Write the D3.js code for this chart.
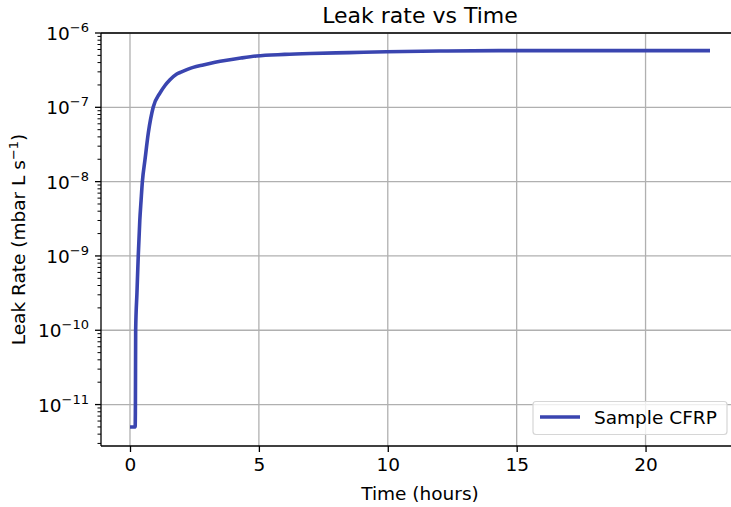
<!DOCTYPE html>
<meta charset="utf-8">
<style>
body { margin: 0; background: #fff; }
text { font-family: "DejaVu Sans", sans-serif; fill: #000; }
</style>
<svg width="731" height="507"></svg>
<script src="https://d3js.org/d3.v7.min.js"></script>
<script>

// time (hours) and leak rate (mbar L/s)
var hours = [0, 0.1, 0.2, 0.21, 0.22, 0.27, 0.32, 0.38, 0.43, 0.48, 0.58, 0.71, 0.9, 1.16, 1.35, 1.55, 1.8, 2.0, 2.45, 2.84, 3.3, 3.75, 4.3, 4.9, 6, 7, 8.5, 9.95, 12, 14.3, 16, 18, 20, 22.5];
var rates = [5e-12, 5e-12, 5e-12, 1e-11, 1e-10, 3.2e-10, 1e-9, 3e-9, 5.6e-9, 1e-8, 1.95e-8, 4.5e-8, 1e-7, 1.55e-7, 1.95e-7, 2.35e-7, 2.79e-7, 3.0e-7, 3.45e-7, 3.72e-7, 4.03e-7, 4.3e-7, 4.6e-7, 4.9e-7, 5.15e-7, 5.3e-7, 5.45e-7, 5.6e-7, 5.72e-7, 5.8e-7, 5.8e-7, 5.8e-7, 5.8e-7, 5.8e-7];
var xTicks = [0, 5, 10, 15, 20];
var yTicks = [-11, -10, -9, -8, -7, -6];

var svg = d3.select("svg");
var margin = {left: 101, top: 33, right: 739, bottom: 446};

var x = d3.scaleLinear().domain([-1.125, 23.625]).range([margin.left, margin.right]);
var y = d3.scaleLog().domain([2.77e-12, 1e-6]).range([margin.bottom, margin.top]);

var data = hours.map(function(h, i) { return {t: h, v: rates[i]}; });

// grid
svg.append("g").selectAll("line")
    .data(xTicks)
  .enter().append("line")
    .attr("x1", function(d) { return x(d); }).attr("x2", function(d) { return x(d); })
    .attr("y1", margin.top).attr("y2", margin.bottom)
    .attr("stroke", "#b0b0b0").attr("stroke-width", 1.3);

svg.append("g").selectAll("line")
    .data(yTicks)
  .enter().append("line")
    .attr("y1", function(d) { return y(Math.pow(10, d)); }).attr("y2", function(d) { return y(Math.pow(10, d)); })
    .attr("x1", margin.left).attr("x2", margin.right)
    .attr("stroke", "#b0b0b0").attr("stroke-width", 1.3);

// line
var line = d3.line()
    .x(function(d) { return x(d.t); })
    .y(function(d) { return y(d.v); })
    .curve(d3.curveMonotoneX);

svg.append("path")
    .datum(data)
    .attr("fill", "none")
    .attr("stroke", "#3a45b0")
    .attr("stroke-width", 3.6)
    .attr("d", line);

// spines
svg.append("line").attr("x1", margin.left).attr("x2", margin.right)
    .attr("y1", margin.top).attr("y2", margin.top).attr("stroke", "#000").attr("stroke-width", 1.3);
svg.append("line").attr("x1", margin.left).attr("x2", margin.right)
    .attr("y1", margin.bottom).attr("y2", margin.bottom).attr("stroke", "#000").attr("stroke-width", 1.3);
svg.append("line").attr("x1", margin.left).attr("x2", margin.left)
    .attr("y1", margin.top).attr("y2", margin.bottom).attr("stroke", "#000").attr("stroke-width", 1.3);

// x axis
var xAxis = svg.append("g").attr("transform", "translate(0," + margin.bottom + ")")
    .call(d3.axisBottom(x).tickValues(xTicks).tickSize(6).tickPadding(6).tickFormat(d3.format("d")));
xAxis.select(".domain").remove();
xAxis.selectAll("line").attr("stroke-width", 1.3);
xAxis.selectAll("text").style("font-size", "18.5px").attr("fill", "#000");

// y axis: minor ticks then majors
var minors = [];
for (var e = -12; e < -6; e++) {
  for (var m = 2; m <= 9; m++) {
    var v = m * Math.pow(10, e);
    if (v >= y.domain()[0] && v <= y.domain()[1]) minors.push(v);
  }
}
svg.append("g").selectAll("line")
    .data(minors)
  .enter().append("line")
    .attr("x1", margin.left - 3.5).attr("x2", margin.left)
    .attr("y1", function(d) { return y(d); }).attr("y2", function(d) { return y(d); })
    .attr("stroke", "#000").attr("stroke-width", 1);

var yg = svg.append("g");
yg.selectAll("line")
    .data(yTicks)
  .enter().append("line")
    .attr("x1", margin.left - 6).attr("x2", margin.left)
    .attr("y1", function(d) { return y(Math.pow(10, d)); }).attr("y2", function(d) { return y(Math.pow(10, d)); })
    .attr("stroke", "#000").attr("stroke-width", 1.3);

var lab = yg.selectAll("text")
    .data(yTicks)
  .enter().append("text")
    .attr("x", margin.left - 12)
    .attr("y", function(d) { return y(Math.pow(10, d)) + 7; })
    .attr("text-anchor", "end")
    .style("font-size", "18.5px");
lab.append("tspan").text("10");
lab.append("tspan").attr("dy", -8).style("font-size", "13px")
    .text(function(d) { return "\u2212" + (-d); });

// titles
svg.append("text").attr("x", (margin.left + margin.right) / 2).attr("y", 23)
    .attr("text-anchor", "middle").style("font-size", "22px").text("Leak rate vs Time");

svg.append("text").attr("x", (margin.left + margin.right) / 2).attr("y", 500)
    .attr("text-anchor", "middle").style("font-size", "18.5px").text("Time (hours)");

var yl = svg.append("text")
    .attr("transform", "translate(25," + ((margin.top + margin.bottom) / 2) + ") rotate(-90)")
    .attr("text-anchor", "middle").style("font-size", "18.5px");
yl.append("tspan").text("Leak Rate (mbar L s");
yl.append("tspan").attr("dy", -7).style("font-size", "13px").text("\u22121");
yl.append("tspan").attr("dy", 7).text(")");

// legend
var leg = svg.append("g");
leg.append("rect").attr("x", 533).attr("y", 401.5).attr("width", 194).attr("height", 33)
    .attr("rx", 3).attr("fill", "#fff").attr("fill-opacity", 0.8)
    .attr("stroke", "#d6d6d6").attr("stroke-width", 1.2);
leg.append("line").attr("x1", 540).attr("x2", 580).attr("y1", 417).attr("y2", 417)
    .attr("stroke", "#3a45b0").attr("stroke-width", 3.6);
leg.append("text").attr("x", 594).attr("y", 424).style("font-size", "18.5px").text("Sample CFRP");

</script>
